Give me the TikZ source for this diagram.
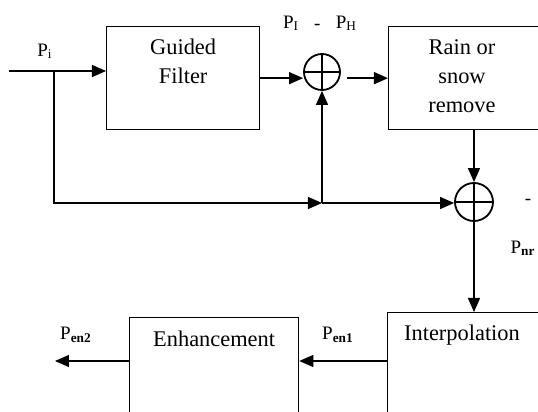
\documentclass[tikz,border=0pt]{standalone}
\usepackage{fontspec}
\setmainfont{Liberation Serif}
\usetikzlibrary{arrows.meta, positioning, calc}

\begin{document}
\begin{tikzpicture}[x=0.5pt, y=-0.5pt,
    blk/.style={draw, line width=0.65pt, inner sep=0pt, anchor=north west},
    txt/.style={inner sep=0pt, align=center, anchor=base, font=\fontsize{11.2}{14.5}\selectfont},
    sig/.style={inner sep=0pt, anchor=base, font=\fontsize{9.5}{11}\selectfont},
    sumnode/.style={draw, circle, line width=0.9pt, minimum size=18pt, inner sep=0pt},
    arr/.style={line width=0.65pt, -{Triangle[length=7pt, width=6pt]}}]
    \useasboundingbox (0,0) rectangle (538,412);
    \clip (0,0) rectangle (538,412);

    \node[blk, minimum width=76.5pt, minimum height=51.5pt] (guided) at (106,26) {};
    \node[blk, minimum width=90pt, minimum height=51.5pt] (rain) at (388,26) {};
    \node[blk, minimum width=90pt, minimum height=60pt] (interp) at (387,312) {};
    \node[blk, minimum width=84.5pt, minimum height=60pt] (enh) at (129,317) {};

    \node[txt, anchor=north] (guidedtxt) at ($(guided.north)+(0,13)$) {Guided\\Filter};
    \node[txt, anchor=north] (raintxt) at ($(rain.north west)+(74,13)$) {Rain or\\snow\\remove};
    \node[txt] (interptxt) at ($(interp.north west)+(75,29)$) {Interpolation};
    \node[txt] (enhtxt) at ($(enh.north)+(0,30)$) {Enhancement};

    \node[sumnode] (sumA) at (322,72) {};
    \node[sumnode, minimum size=19pt] (sumB) at (474,202) {};
    \draw[line width=0.9pt] (sumA.north) -- (sumA.south) (sumA.west) -- (sumA.east);
    \draw[line width=0.9pt] (sumB.north) -- (sumB.south) (sumB.west) -- (sumB.east);

    \coordinate (in) at (9,71);
    \coordinate (branch) at (54,71);
    \coordinate (fb) at (322,203);
    \coordinate (ie) at ($(interp.north west)+(0,49)$);
    \coordinate (out) at (55,361);

    \draw[arr] (in) -- (in -| guided.west);
    \draw[arr] (guided.east) -- (guided.east -| sumA.west);
    \draw[arr] ($(sumA.east |- rain.west)+(6,0)$) -- (rain.west);
    \draw[arr] (branch) |- (fb);
    \draw[arr] (fb) -- (sumA.south);
    \draw[arr] (fb) -- (fb -| sumB.west);
    \draw[arr] (sumB |- rain.south) -- (sumB.north);
    \draw[arr] (sumB.south) -- (sumB.south |- interp.north);
    \draw[arr] (ie) -- (ie -| enh.east);
    \draw[arr] (out -| enh.west) -- (out);

    \node[sig] (lpi) at (45,56) {P\textsubscript{i}};
    \node[sig] (ldiff) at (320,28) {P\textsubscript{I}\hspace{0.8em}\raisebox{-1pt}{-}\hspace{0.8em}P\textsubscript{H}};
    \node[sig] (lminus) at (528,205) {-};
    \node[sig] (lnr) at (523,254) {P\textsubscript{\textbf{nr}}};
    \node[sig] (len1) at (338,340) {P\textsubscript{\textbf{en1}}};
    \node[sig] (len2) at (76,340) {P\textsubscript{\textbf{en2}}};
\end{tikzpicture}
\end{document}
